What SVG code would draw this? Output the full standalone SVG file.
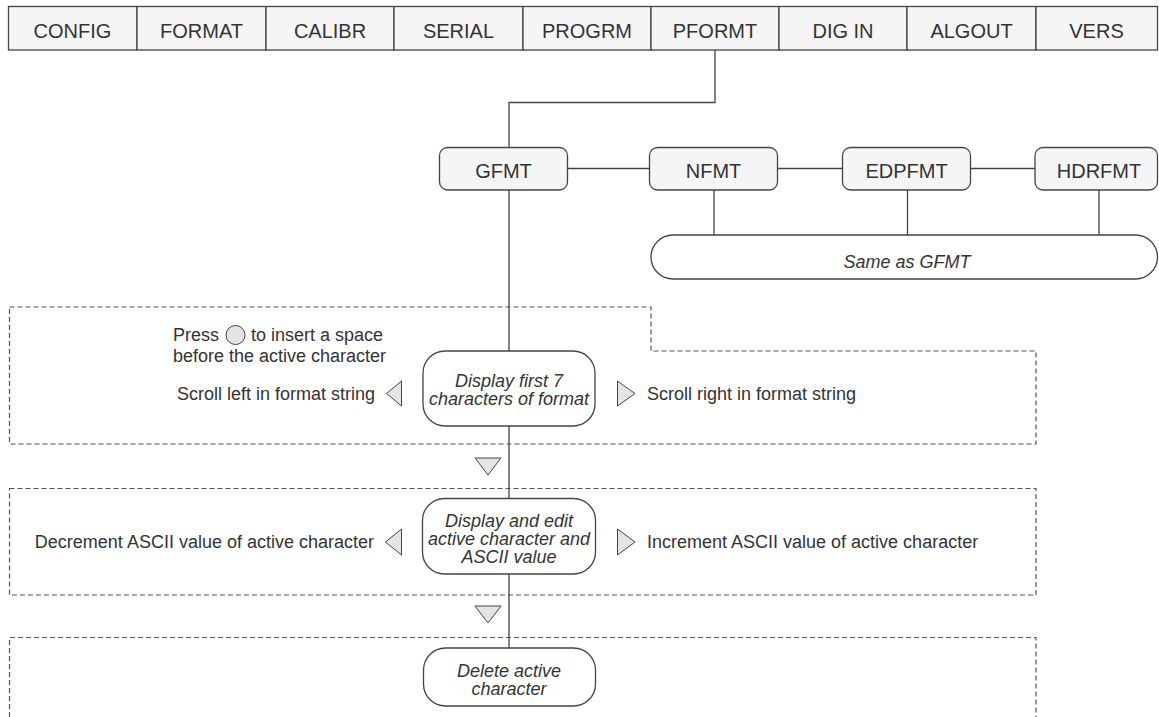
<svg xmlns="http://www.w3.org/2000/svg" width="1159" height="717" viewBox="0 0 1159 717">
<style>
.cell{fill:#f5f5f5;stroke:#444;stroke-width:1.3}
.box{fill:#f5f5f5;stroke:#444;stroke-width:1.3}
.node{fill:#fff;stroke:#444;stroke-width:1.3}
.conn{fill:none;stroke:#444;stroke-width:1.3}
.dash{fill:none;stroke:#555;stroke-width:1.2;stroke-dasharray:5 3}
.tri{fill:#e4e4e4;stroke:#444;stroke-width:1}
text{font-family:"Liberation Sans",Arial,sans-serif;fill:#333}
.lbl{font-size:20px;text-anchor:middle}
.it{font-size:18px;font-style:italic;text-anchor:middle}
.t{font-size:18px}
.end{text-anchor:end}
</style>
<rect width="1159" height="717" fill="#fff"/>
<g id="menu">
<g id="m-config"><rect class="cell" x="8.5" y="6.5" width="128.5" height="43.5"/><text class="lbl" x="72.5" y="38">CONFIG</text></g>
<g id="m-format"><rect class="cell" x="137" y="6.5" width="129" height="43.5"/><text class="lbl" x="201.5" y="38">FORMAT</text></g>
<g id="m-calibr"><rect class="cell" x="266" y="6.5" width="128" height="43.5"/><text class="lbl" x="330" y="38">CALIBR</text></g>
<g id="m-serial"><rect class="cell" x="394" y="6.5" width="129" height="43.5"/><text class="lbl" x="458.5" y="38">SERIAL</text></g>
<g id="m-progrm"><rect class="cell" x="523" y="6.5" width="128" height="43.5"/><text class="lbl" x="587" y="38">PROGRM</text></g>
<g id="m-pformt"><rect class="cell" x="651" y="6.5" width="128" height="43.5"/><text class="lbl" x="715" y="38">PFORMT</text></g>
<g id="m-digin"><rect class="cell" x="779" y="6.5" width="128" height="43.5"/><text class="lbl" x="843" y="38">DIG IN</text></g>
<g id="m-algout"><rect class="cell" x="907" y="6.5" width="129" height="43.5"/><text class="lbl" x="971.5" y="38">ALGOUT</text></g>
<g id="m-vers"><rect class="cell" x="1036" y="6.5" width="121.5" height="43.5"/><text class="lbl" x="1096.5" y="38">VERS</text></g>
</g>
<g id="sections">
<path class="dash" d="M9.5,307 H651 V351 H1036 V444 H9.5 Z"/>
<rect class="dash" x="9.5" y="488.5" width="1026.5" height="106.5"/>
<path class="dash" d="M9.5,717 V637.5 H1036 V717"/>
</g>
<g id="connectors">
<path class="conn" d="M715,50 V102.5 H509 V147.5"/>
<path class="conn" d="M567.5,168.5 H649.5"/>
<path class="conn" d="M777.5,168.5 H842.5"/>
<path class="conn" d="M970.5,168.5 H1035"/>
<path class="conn" d="M714,190 V235"/>
<path class="conn" d="M907.5,190 V235"/>
<path class="conn" d="M1099,190 V235"/>
<path class="conn" d="M509,190 V351"/>
<path class="conn" d="M509,426 V498.5"/>
<path class="conn" d="M509,574 V648"/>
</g>
<g id="gfmt"><rect class="box" x="439.5" y="147.5" width="128" height="42.5" rx="8"/><text class="lbl" x="503.5" y="178">GFMT</text></g>
<g id="nfmt"><rect class="box" x="649.5" y="147.5" width="128" height="42.5" rx="8"/><text class="lbl" x="713.5" y="178">NFMT</text></g>
<g id="edpfmt"><rect class="box" x="842.5" y="147.5" width="128" height="42.5" rx="8"/><text class="lbl" x="906.5" y="178">EDPFMT</text></g>
<g id="hdrfmt"><rect class="box" x="1035" y="147.5" width="122.5" height="42.5" rx="8"/><text class="lbl" x="1099" y="178">HDRFMT</text></g>
<g id="same"><rect class="node" x="651" y="235" width="506.5" height="44" rx="22"/><text class="it" x="907" y="267.5">Same as GFMT</text></g>
<g id="display-first">
<rect class="node" x="423" y="351" width="172" height="75" rx="22"/>
<text class="it" x="509" y="387">Display first 7</text>
<text class="it" x="509" y="405">characters of format</text>
</g>
<g id="display-edit">
<rect class="node" x="422.5" y="498.5" width="173" height="75.5" rx="22"/>
<text class="it" x="509" y="527">Display and edit</text>
<text class="it" x="509" y="545">active character and</text>
<text class="it" x="509" y="563">ASCII value</text>
</g>
<g id="delete">
<rect class="node" x="423.5" y="648" width="172" height="58" rx="22"/>
<text class="it" x="509" y="677">Delete active</text>
<text class="it" x="509" y="695">character</text>
</g>
<g id="sec1-labels">
<text class="t" x="173" y="341">Press</text>
<circle cx="235.5" cy="335" r="9.5" fill="#e4e4e4" stroke="#444" stroke-width="1"/>
<text class="t" x="251" y="341">to insert a space</text>
<text class="t" x="173" y="362">before the active character</text>
<text class="t end" x="375" y="400">Scroll left in format string</text>
<polygon class="tri" points="386.5,393.5 401.5,381 401.5,406"/>
<polygon class="tri" points="617.5,381 617.5,406 635,393.5"/>
<text class="t" x="647" y="400">Scroll right in format string</text>
</g>
<g id="sec2-labels">
<polygon class="tri" points="475,458 501,458 488,475"/>
<text class="t end" x="374" y="548">Decrement ASCII value of active character</text>
<polygon class="tri" points="385.5,542 401.5,529 401.5,555"/>
<polygon class="tri" points="617.5,529 617.5,555 635,542"/>
<text class="t" x="647" y="548">Increment ASCII value of active character</text>
<polygon class="tri" points="475,606 501,606 488,623"/>
</g>
</svg>
